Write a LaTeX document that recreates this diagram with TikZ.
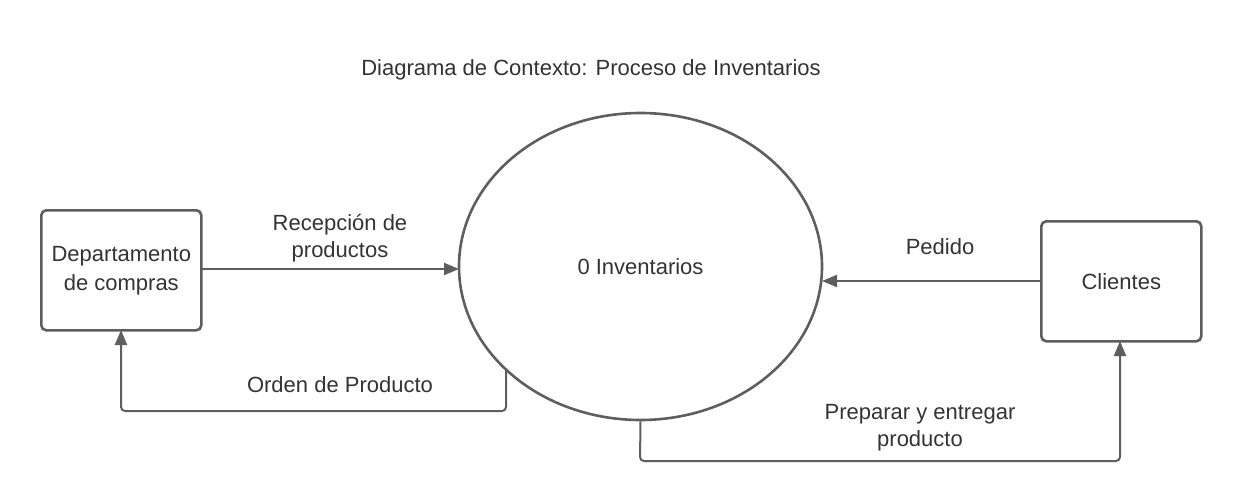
\documentclass[tikz,border=0pt]{standalone}
\usepackage{fontspec}
\setmainfont{Liberation Sans}
\usetikzlibrary{arrows.meta,shapes.geometric}
\definecolor{ln}{HTML}{5E5E5E}
\definecolor{tx}{HTML}{333333}
\tikzset{
  ent/.style={draw=ln,line width=2.6pt,rounded corners=5pt,minimum width=160pt,minimum height=120pt,inner sep=0pt,text=tx,align=center,font=\fontsize{22}{29}\selectfont},
  proc/.style={draw=ln,line width=2.6pt,ellipse,minimum width=363pt,minimum height=307pt,inner sep=0pt,text=tx,font=\fontsize{22}{29}\selectfont},
  flow/.style={draw=ln,line width=2pt,rounded corners=4pt,-{Triangle[length=15pt,width=12pt]}},
  lbl/.style={text=tx,align=center,font=\fontsize{22}{27}\selectfont,inner sep=0pt},
}
\begin{document}
\begin{tikzpicture}[x=1pt,y=-1pt]
\useasboundingbox (0,0) rectangle (1240,503);
\node[lbl] (title) at (591,70) {Diagrama de Contexto: Proceso de Inventarios};
\node[ent,anchor=north west] (dep) at (40,209) {Departamento\\de compras};
\node[ent,anchor=north west] (cli) at (1040,220) {Clientes};
\node[proc] (inv) at (640.5,266.5) {0 Inventarios};
\coordinate (depE) at (200,269);
\coordinate (invW) at (459,269);
\draw[flow] (depE) -- (invW);
\coordinate (cliW) at (1040,281);
\coordinate (invE) at (822,281);
\draw[flow] (cliW) -- (invE);
\coordinate (o1) at (506,369);
\coordinate (depS) at (121,330);
\coordinate (cliS) at (1120,341);
\draw[flow] (o1) -- (506,411) -- (121,411) -- (depS);
\draw[flow] (inv.south) -- (640,461) -- (1120,461) -- (cliS);
\node[lbl] (l1) at (340,238) {Recepción de\\productos};
\node[lbl] (l2) at (940,247) {Pedido};
\node[lbl] (l3) at (340,385) {Orden de Producto};
\node[lbl] (l4) at (920,428) {Preparar y entregar\\producto};
\end{tikzpicture}
\end{document}
